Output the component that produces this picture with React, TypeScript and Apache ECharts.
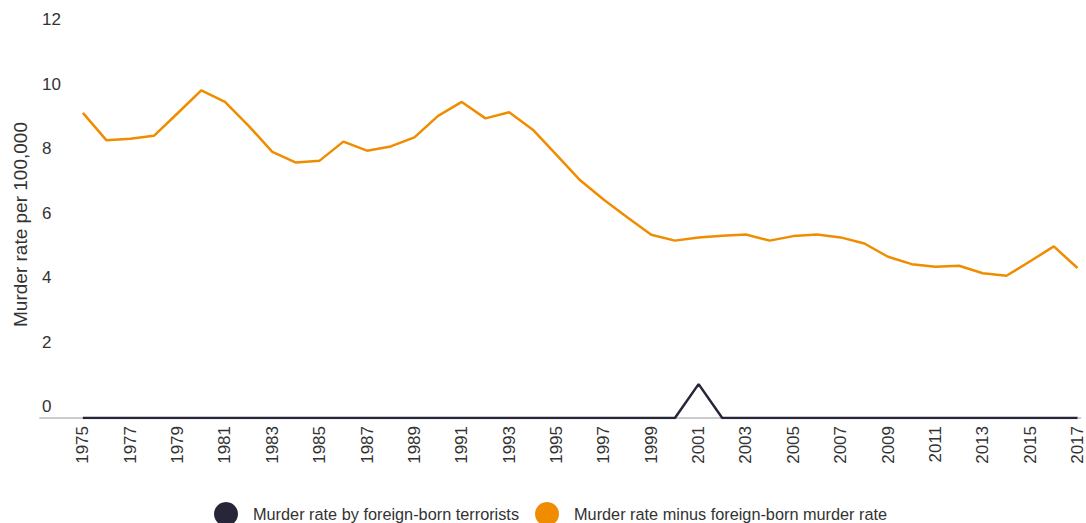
import React, { useEffect, useRef } from "react";
import * as echarts from "echarts";

const years: number[] = [
  1975, 1976, 1977, 1978, 1979, 1980, 1981, 1982, 1983, 1984, 1985, 1986, 1987, 1988, 1989,
  1990, 1991, 1992, 1993, 1994, 1995, 1996, 1997, 1998, 1999, 2000, 2001, 2002, 2003, 2004,
  2005, 2006, 2007, 2008, 2009, 2010, 2011, 2012, 2013, 2014, 2015, 2016, 2017,
];

const minusForeignBorn: number[] = [
  9.46, 8.61, 8.66, 8.75, 9.45, 10.16, 9.8, 9.06, 8.25, 7.92, 7.98, 8.57, 8.29, 8.42, 8.7,
  9.37, 9.8, 9.29, 9.48, 8.94, 8.16, 7.37, 6.77, 6.22, 5.68, 5.5, 5.6, 5.65, 5.69, 5.5,
  5.64, 5.69, 5.6, 5.41, 5.0, 4.77, 4.69, 4.72, 4.49, 4.41, 4.86, 5.32, 4.65,
];

const terrorists: number[] = [
  0, 0, 0, 0, 0, 0, 0, 0, 0, 0, 0, 0, 0, 0, 0,
  0, 0, 0, 0, 0, 0, 0, 0, 0, 0, 0, 1.05, 0, 0, 0,
  0, 0, 0, 0, 0, 0, 0, 0, 0, 0, 0, 0, 0,
];

const xTickYears: number[] = [
  1975, 1977, 1979, 1981, 1983, 1985, 1987, 1989, 1991, 1993, 1995, 1997, 1999, 2001,
  2003, 2005, 2007, 2009, 2011, 2013, 2015, 2017,
];

const seriesNames = [
  "Murder rate by foreign-born terrorists",
  "Murder rate minus foreign-born murder rate",
];

const ORANGE = "#F08C00";
const NAVY = "#272538";
const TEXT = "#333333";
const FONT = "Liberation Sans, Arial, sans-serif";

export default function App() {
  const ref = useRef<HTMLDivElement>(null);
  useEffect(() => {
    if (!ref.current) return;
    const chart = echarts.init(ref.current, null, { renderer: "svg" });
    chart.setOption({
      animation: false,
      textStyle: { fontFamily: FONT },
      grid: { left: 40, right: 0, top: 31, bottom: 105, containLabel: false },
      legend: {
        data: [
          { name: seriesNames[0], icon: "circle" },
          { name: seriesNames[1], icon: "circle" },
        ],
        left: 214,
        top: 502,
        padding: 0,
        itemWidth: 24,
        itemHeight: 24,
        itemGap: 16,
        textStyle: {
          fontSize: 16.3,
          lineHeight: 16,
          color: TEXT,
          fontFamily: FONT,
          padding: [0, 0, 0, 10],
        },
      },
      xAxis: {
        type: "value",
        min: 1973.19,
        max: 2017.12,
        splitLine: { show: false },
        axisTick: { show: false },
        axisLine: { show: true, lineStyle: { color: "#cccccc", width: 2 } },
        axisLabel: {
          customValues: xTickYears,
          rotate: 90,
          fontSize: 17,
          color: TEXT,
          margin: 8,
          formatter: (v: number) => String(v),
        },
      },
      yAxis: {
        type: "value",
        min: 0,
        max: 12,
        interval: 2,
        name: "Murder rate per 100,000",
        nameLocation: "middle",
        nameGap: 10,
        nameTextStyle: { fontSize: 19, color: TEXT, fontFamily: FONT },
        splitLine: { show: false },
        axisLine: { show: false },
        axisTick: { show: false },
        axisLabel: {
          inside: true,
          align: "left",
          verticalAlign: "bottom",
          margin: 2,
          fontSize: 17,
          color: TEXT,
          padding: [0, 0, 3, 0],
        },
      },
      series: [
        {
          name: seriesNames[1],
          type: "line",
          data: years.map((y, i) => [y, minusForeignBorn[i]]),
          showSymbol: false,
          symbol: "none",
          lineStyle: { color: ORANGE, width: 2.5 },
          itemStyle: { color: ORANGE },
        },
        {
          name: seriesNames[0],
          type: "line",
          data: years.map((y, i) => [y, terrorists[i]]),
          showSymbol: false,
          symbol: "none",
          lineStyle: { color: NAVY, width: 2.5 },
          itemStyle: { color: NAVY },
        },
      ],
    });
    return () => chart.dispose();
  }, []);
  return (
    <div
      ref={ref}
      style={{ position: "absolute", left: 0, top: 0, width: 1086, height: 523 }}
    />
  );
}
